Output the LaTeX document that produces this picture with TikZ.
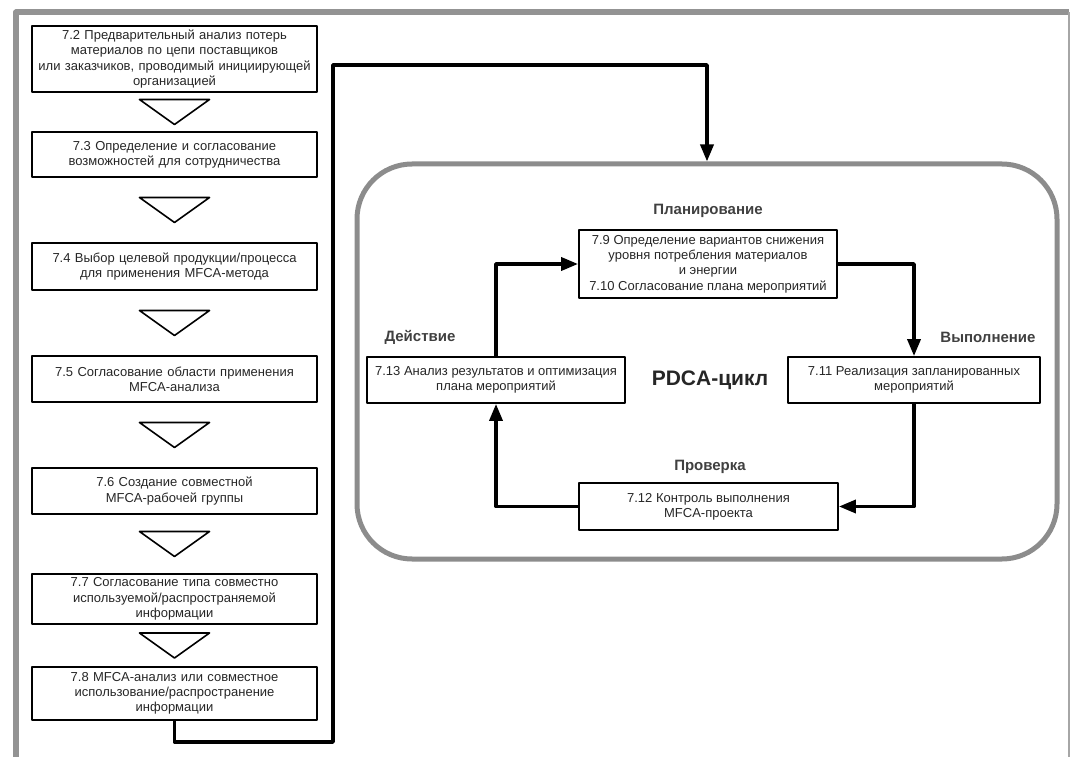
\documentclass[tikz,border=0pt]{standalone}
\usepackage{fontspec}
\setmainfont{Liberation Sans}
\usetikzlibrary{arrows.meta,calc}
\begin{document}
\begin{tikzpicture}[x=1pt,y=-1pt,font=\fontsize{13}{15.3}\selectfont,line join=round,
	>={Triangle[length=17pt,width=13pt]},
	stage/.style={draw,line width=1.8pt,align=center,text width=278pt,minimum width=285pt,inner sep=2pt,text=black!85},
	pdca/.style={draw,line width=1.8pt,align=center,inner sep=2pt,text=black!85},
	phase/.style={font=\fontsize{15}{17}\selectfont\bfseries,text=black!75},
	flow/.style={line width=3.5pt,->},
	tri/.style={draw,line width=1.6pt}]
\useasboundingbox (0,0) rectangle (1072,757);
% outer frame
\draw[gray!85,line width=6pt] (16,757) -- (16,12.5) -- (1069,12.5);
\draw[gray!70,line width=1.5pt] (1069,12.5) -- (1069,757);

% left column
\node[stage,minimum height=66pt] (s1) at (174.5,59) {7.2 Предварительный анализ потерь\\ материалов по цепи поставщиков\\ или заказчиков, проводимый инициирующей\\ организацией};
\node[stage,minimum height=45pt] (s2) at (174.5,154.5) {7.3 Определение и согласование\\ возможностей для сотрудничества};
\node[stage,minimum height=47pt] (s3) at (174.5,266.5) {7.4 Выбор целевой продукции/процесса\\ для применения MFCA-метода};
\node[stage,minimum height=46pt] (s4) at (174.5,379) {7.5 Согласование области применения\\ MFCA-анализа};
\node[stage,minimum height=46pt] (s5) at (174.5,491) {7.6 Создание совместной\\ MFCA-рабочей группы};
\node[stage,minimum height=50pt] (s6) at (174.5,599) {7.7 Согласование типа совместно\\ используемой/распространяемой\\ информации};
\node[stage,minimum height=53pt] (s7) at (174.5,693.5) {7.8 MFCA-анализ или совместное\\ использование/распространение\\ информации};
\foreach \a/\b in {s1/s2,s2/s3,s3/s4,s4/s5,s5/s6,s6/s7}{
	\path (\a.south) -- (\b.north) coordinate[pos=0.5] (mid);
	\draw[tri] ($(mid)+(-35,-12.5)$) -- ($(mid)+(35,-12.5)$) -- ($(mid)+(0,12.5)$) -- cycle;
}

% PDCA cycle
\node[draw=gray!90,line width=5pt,rounded corners=55pt,minimum width=700pt,minimum height=395pt] (cycle) at (707,361.5) {};
\node[pdca,minimum width=258pt,minimum height=68pt] (plan) at (708,264) {7.9 Определение вариантов снижения\\ уровня потребления материалов\\ и энергии\\ 7.10 Согласование плана мероприятий};
\node[pdca,minimum width=258pt,minimum height=46pt] (act) at (496,380) {7.13 Анализ результатов и оптимизация\\ плана мероприятий};
\node[pdca,minimum width=252pt,minimum height=46pt] (do) at (914,380) {7.11 Реализация запланированных\\ мероприятий};
\node[pdca,minimum width=259pt,minimum height=47pt] (check) at (708.5,506.5) {7.12 Контроль выполнения\\ MFCA-проекта};
\node[phase] (planlbl) at (708,211) {Планирование};
\node[phase] (actlbl) at (420,337) {Действие};
\node[phase] (dolbl) at (988,337) {Выполнение};
\node[phase] (checklbl) at (710,467) {Проверка};
\node[font=\fontsize{21}{24}\selectfont\bfseries,text=black!85] (name) at (710,380) {PDCA-цикл};

% connectors
\coordinate (low) at (333,742);
\coordinate (high) at (333,65);
\draw[flow] (s7.south) |- (low) -- (high) -| (cycle.north);
\draw[flow] (act.north) |- (plan.west);
\draw[flow] (plan.east) -| (do.north);
\draw[flow] (do.south) |- (check.east);
\draw[flow] (check.west) -| (act.south);
\end{tikzpicture}
\end{document}
